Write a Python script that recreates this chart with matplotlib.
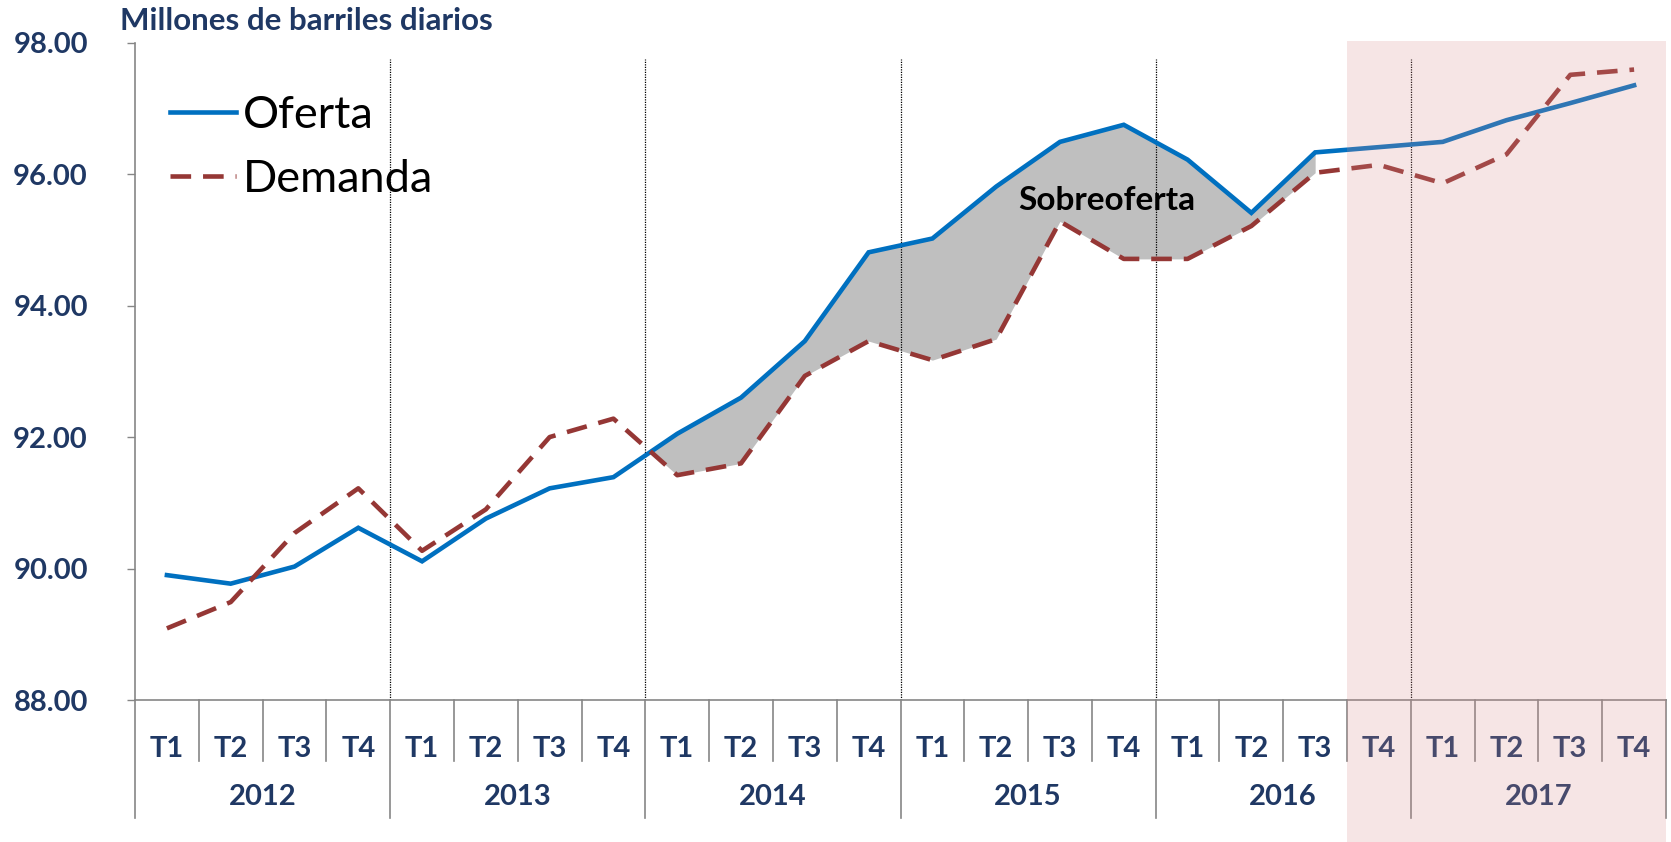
import matplotlib
matplotlib.use("Agg")
import matplotlib.pyplot as plt
from matplotlib.lines import Line2D
from matplotlib.patches import Rectangle
from matplotlib.transforms import blended_transform_factory

plt.rcParams['font.family'] = ['Lato', 'DejaVu Sans']

years = ["2012", "2013", "2014", "2015", "2016", "2017"]
quarters = ["T1", "T2", "T3", "T4"]
oferta = [89.90, 89.77, 90.03, 90.62,
          90.11, 90.76, 91.22, 91.39,
          92.05, 92.60, 93.46, 94.81,
          95.02, 95.81, 96.49, 96.75,
          96.22, 95.41, 96.33, 96.41,
          96.49, 96.82, 97.08, 97.35]
demanda = [89.09, 89.49, 90.54, 91.22,
           90.27, 90.90, 92.00, 92.28,
           91.42, 91.60, 92.93, 93.46,
           93.17, 93.49, 95.28, 94.71,
           94.71, 95.21, 96.02, 96.14,
           95.86, 96.30, 97.51, 97.59]
y_ticks = [88, 90, 92, 94, 96, 98]
fill_from, fill_to = 7, 18      # index range of the "sobreoferta" area
forecast_from = 19              # 2016 T4 onwards is a forecast

navy = "#1F3864"
blue = "#0070C0"
red = "#953735"

n = len(oferta)
x = list(range(n))

fig = plt.figure(figsize=(16.71, 8.42), dpi=100)
ax = fig.add_axes([0.0808, 0.1686, 0.9162, 0.7808])

xf = x[fill_from:fill_to + 1]
of = oferta[fill_from:fill_to + 1]
de = demanda[fill_from:fill_to + 1]
ax.fill_between(xf, de, of, where=[o >= d for o, d in zip(of, de)],
                interpolate=True, color="#BFBFBF", lw=0, zorder=1)

ax.plot(x, oferta, color=blue, lw=3.3, solid_joinstyle="miter", zorder=3, label="Oferta")
ax.plot(x, demanda, color=red, lw=3.3, dashes=(4.5, 2.6), zorder=3, label="Demanda")

# dotted year separators inside the plot
for k in range(1, len(years)):
    ax.plot([4 * k - 0.5] * 2, [88, 97.75], color="black", lw=0.9, ls=(0, (1, 1)), zorder=2)

ax.set_xlim(-0.5, n - 0.5)
ax.set_ylim(88, 98)
ax.set_yticks(y_ticks)
ax.set_yticklabels([f"{v:.2f}" for v in y_ticks])
ax.tick_params(axis="y", length=6, width=1, color="#868686", labelsize=21,
               labelcolor=navy, pad=28)
for lab in ax.get_yticklabels():
    lab.set_fontweight("bold")

ax.set_xticks(x)
ax.set_xticklabels(quarters * len(years), fontsize=21, fontweight="bold", color=navy)
ax.tick_params(axis="x", length=0, pad=26)

for s in ["top", "right"]:
    ax.spines[s].set_visible(False)
ax.spines["left"].set_color("#868686")
ax.spines["bottom"].set_color("#868686")
ax.spines["left"].set_linewidth(1.2)
ax.spines["bottom"].set_linewidth(1.2)

tr = blended_transform_factory(ax.transData, ax.transAxes)
for i in range(n + 1):
    xp = i - 0.5
    long = (i % 4 == 0)
    ax.plot([xp, xp], [0, -0.18 if long else -0.092], color="#868686", lw=1.2,
            transform=tr, clip_on=False)
for k, yr in enumerate(years):
    ax.text(4 * k + 1.5, -0.148, yr, transform=tr, ha="center", va="center",
            fontsize=21, fontweight="bold", color=navy)

ax.text(14.74, 95.6, "Sobreoferta", ha="center", va="center",
        fontsize=24, fontweight="bold", color="black", zorder=4)

fig.text(0.072, 0.975, "Millones de barriles diarios", ha="left", va="center",
         fontsize=22.5, fontweight="bold", color=navy)

handles = [Line2D([], [], color=blue, lw=3.3),
           Line2D([], [], color=red, lw=3.3, dashes=(4.5, 2.6))]
ax.legend(handles, ["Oferta", "Demanda"], loc="upper left", bbox_to_anchor=(0.023, 0.92),
          frameon=False, fontsize=32.5, handlelength=1.45, handletextpad=0.15,
          labelspacing=0.5, borderpad=0, borderaxespad=0)

# pink forecast band drawn over everything
ftr = blended_transform_factory(ax.transData, fig.transFigure)
band = Rectangle((forecast_from - 0.5, 0), n - forecast_from, 0.9494 + 0.002,
                 transform=ftr, facecolor="#D98C8C", alpha=0.22, lw=0, zorder=5)
fig.patches.append(band)

fig.savefig("out.png", dpi=100)
